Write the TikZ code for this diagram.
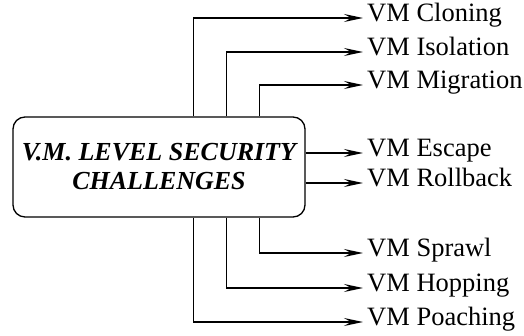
\documentclass[tikz,border=0pt]{standalone}
\usepackage{fontspec}
\setmainfont{Liberation Serif}
\usetikzlibrary{arrows.meta}
\tikzstyle{challenge} = [rectangle, rounded corners=12pt, minimum width=292pt, minimum height=100pt, text centered, align=center, draw=black, line width=1.3pt, font=\fontsize{26}{29}\selectfont\bfseries\itshape]
\tikzstyle{item} = [anchor=west, inner xsep=4pt, inner ysep=0pt, text height=0.66em, text depth=0pt, font=\fontsize{26.5}{30}\selectfont]
\tikzstyle{arrow} = [line width=1.3pt, -{Stealth[length=19pt, width=8pt, inset=7pt]}]

\begin{document}
\begin{tikzpicture}
\useasboundingbox (0,0) rectangle (524pt,336pt);
\node (levels) [challenge] at (159pt,169pt) {V.M. LEVEL SECURITY\\CHALLENGES};

\node (cloning) [item] at (363pt,318pt) {VM Cloning};
\node (isolation) [item] at (363pt,284pt) {VM Isolation};
\node (migration) [item] at (363pt,251pt) {VM Migration};
\node (escape) [item] at (363pt,183pt) {VM Escape};
\node (rollback) [item] at (363pt,153pt) {VM Rollback};
\node (sprawl) [item] at (363pt,83pt) {VM Sprawl};
\node (hopping) [item] at (363pt,48pt) {VM Hopping};
\node (poaching) [item] at (363pt,14pt) {VM Poaching};

\draw [arrow] ([xshift=181pt]levels.north west) |- (cloning.west);
\draw [arrow] ([xshift=214pt]levels.north west) |- (isolation.west);
\draw [arrow] ([xshift=247pt]levels.north west) |- (migration.west);
\draw [arrow] (levels.east |- escape.west) -- (escape.west);
\draw [arrow] (levels.east |- rollback.west) -- (rollback.west);
\draw [arrow] ([xshift=247pt]levels.south west) |- (sprawl.west);
\draw [arrow] ([xshift=214pt]levels.south west) |- (hopping.west);
\draw [arrow] ([xshift=181pt]levels.south west) |- (poaching.west);

\end{tikzpicture}
\end{document}
